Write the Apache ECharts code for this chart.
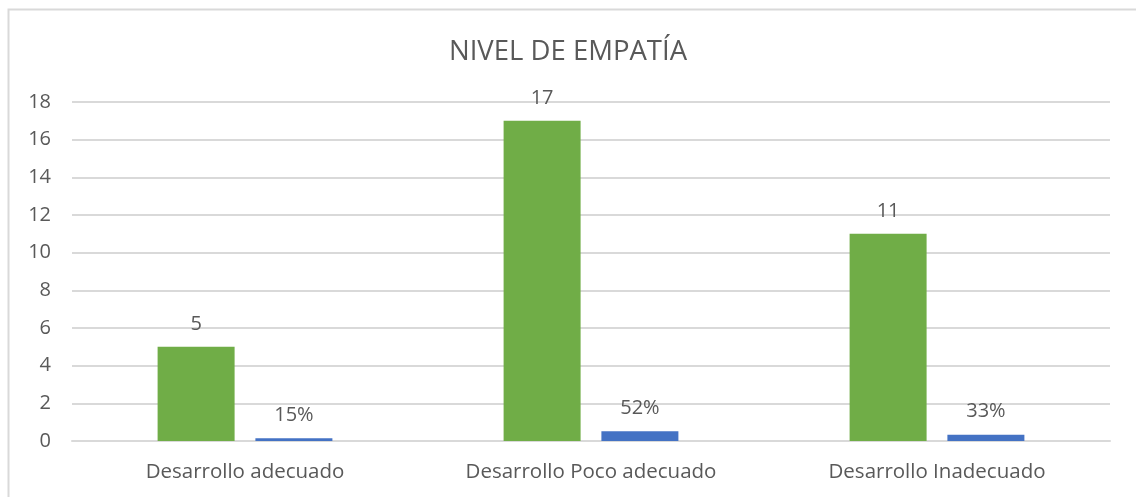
<!DOCTYPE html>
<html>
<head>
<meta charset="utf-8">
<script src="https://cdn.jsdelivr.net/npm/echarts@6/dist/echarts.min.js"></script>
<style>
  html, body { margin: 0; padding: 0; background: #fff; }
  #chart { width: 1136px; height: 497px; }
</style>
</head>
<body>
<div id="chart"></div>
<script>
const categories = ['Desarrollo adecuado', 'Desarrollo Poco adecuado', 'Desarrollo Inadecuado']
const counts = [5, 17, 11]
const shares = [0.15, 0.52, 0.33]

const font = '"Open Sans", "Noto Sans", sans-serif'
const textColor = '#595959'
const gridColor = '#d9d9d9'

const chart = echarts.init(document.getElementById('chart'), null, { renderer: 'canvas' })

chart.setOption({
  animation: false,
  backgroundColor: '#fff',
  textStyle: { fontFamily: font },
  title: {
    text: 'NIVEL DE EMPATÍA',
    left: 'center',
    top: 33,
    textStyle: { color: textColor, fontSize: 27.5, fontWeight: 'normal', fontFamily: font }
  },
  graphic: [{
    type: 'rect',
    shape: { x: 8.5, y: 9.5, width: 1140, height: 500 },
    style: { fill: 'none', stroke: gridColor, lineWidth: 2 },
    silent: true
  }],
  grid: { left: 72, right: 26, top: 102, bottom: 56 },
  xAxis: {
    type: 'category',
    data: categories,
    axisLine: { lineStyle: { color: gridColor, width: 2 } },
    axisTick: { show: false },
    axisLabel: { color: textColor, fontSize: 20.5, margin: 21 }
  },
  yAxis: {
    type: 'value',
    min: 0,
    max: 18,
    interval: 2,
    axisLine: { show: false },
    axisTick: { show: false },
    axisLabel: { color: textColor, fontSize: 20, margin: 21 },
    splitLine: { lineStyle: { color: gridColor, width: 2 } }
  },
  series: [
    {
      name: 'Cantidad',
      type: 'bar',
      data: counts,
      barWidth: 77,
      barGap: '27%',
      itemStyle: { color: '#70ad47' },
      label: { show: true, position: 'top', distance: 13, color: textColor, fontSize: 20 }
    },
    {
      name: 'Porcentaje',
      type: 'bar',
      data: shares,
      barWidth: 77,
      itemStyle: { color: '#4472c4' },
      label: {
        show: true,
        position: 'top',
        distance: 13,
        color: textColor,
        fontSize: 20,
        formatter: (p) => Math.round(p.value * 100) + '%'
      }
    }
  ]
})
</script>
</body>
</html>
